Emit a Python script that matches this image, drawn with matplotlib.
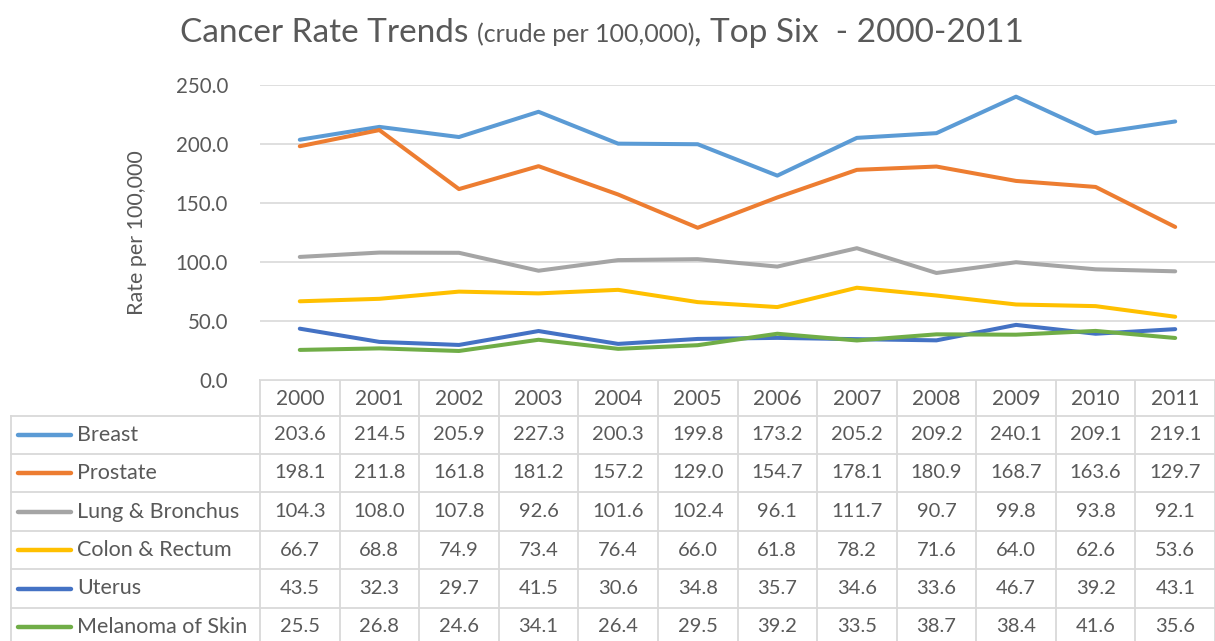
import matplotlib
matplotlib.use("Agg")
import matplotlib.pyplot as plt
from matplotlib.offsetbox import TextArea, HPacker, AnchoredOffsetbox

years = ["2000", "2001", "2002", "2003", "2004", "2005",
         "2006", "2007", "2008", "2009", "2010", "2011"]
series_names = ["Breast", "Prostate", "Lung & Bronchus", "Colon & Rectum",
                "Uterus", "Melanoma of Skin"]
breast = [203.6, 214.5, 205.9, 227.3, 200.3, 199.8, 173.2, 205.2, 209.2, 240.1, 209.1, 219.1]
prostate = [198.1, 211.8, 161.8, 181.2, 157.2, 129.0, 154.7, 178.1, 180.9, 168.7, 163.6, 129.7]
lung = [104.3, 108.0, 107.8, 92.6, 101.6, 102.4, 96.1, 111.7, 90.7, 99.8, 93.8, 92.1]
colon = [66.7, 68.8, 74.9, 73.4, 76.4, 66.0, 61.8, 78.2, 71.6, 64.0, 62.6, 53.6]
uterus = [43.5, 32.3, 29.7, 41.5, 30.6, 34.8, 35.7, 34.6, 33.6, 46.7, 39.2, 43.1]
melanoma = [25.5, 26.8, 24.6, 34.1, 26.4, 29.5, 39.2, 33.5, 38.7, 38.4, 41.6, 35.6]
yticks = [0, 50, 100, 150, 200, 250]

series = [breast, prostate, lung, colon, uterus, melanoma]
colors = ["#5B9BD5", "#ED7D31", "#A5A5A5", "#FFC000", "#4472C4", "#70AD47"]

plt.rcParams["font.family"] = ["Lato", "DejaVu Sans"]
txt = "#595959"
grid = "#D9D9D9"

W, H = 1215, 641
fig = plt.figure(figsize=(W / 100, H / 100), dpi=100)

# plot area in pixels
px0, px1, py_top, py_bot = 260, 1215, 85, 380
ax = fig.add_axes([px0 / W, 1 - py_bot / H, (px1 - px0) / W, (py_bot - py_top) / H])
x = list(range(len(years)))
for vals, c in zip(series, colors):
    ax.plot(x, vals, color=c, lw=2.9, solid_joinstyle="round", solid_capstyle="round", zorder=3)
ax.set_xlim(-0.5, len(years) - 0.5)
ax.set_ylim(0, 250)
ax.set_yticks(yticks)
ax.set_yticklabels([f"{v:.1f}" for v in yticks], fontsize=14.8, color=txt)
ax.tick_params(axis="y", length=0, pad=23)
ax.set_xticks([])
for s in ax.spines.values():
    s.set_visible(False)
ax.grid(axis="y", color=grid, lw=1.2, zorder=0)
ax.set_axisbelow(True)
ax.set_ylabel("Rate per 100,000", fontsize=15.5, color=txt, labelpad=21)

# data table in pixel coordinates
tab = fig.add_axes([0, 0, 1, 1], zorder=-1)
tab.set_xlim(0, W)
tab.set_ylim(H, 0)
tab.axis("off")
colw = (px1 - px0) / len(years)
rows = [380, 416, 454, 492, 531, 569, 608, 646]
left = 11
lkw = dict(color=grid, lw=1.3)
for i in range(len(years) + 1):
    xx = px0 + i * colw
    tab.plot([xx, xx], [rows[0], H], **lkw)
tab.plot([left, left], [rows[1], H], **lkw)
for r in rows[1:]:
    tab.plot([left, W], [r, r], **lkw)
tab.plot([px0, W], [rows[0], rows[0]], **lkw)

for i, yr in enumerate(years):
    tab.text(px0 + (i + 0.5) * colw, (rows[0] + rows[1]) / 2 + 1, yr,
             ha="center", va="center", fontsize=15, color=txt)
for j, (name, vals, c) in enumerate(zip(series_names, series, colors)):
    yc = (rows[j + 1] + rows[j + 2]) / 2
    tab.plot([18, 71], [yc, yc], color=c, lw=3.2, solid_capstyle="round")
    tab.text(77, yc, name, ha="left", va="center", fontsize=15.5, color=txt)
    for i, v in enumerate(vals):
        tab.text(px0 + (i + 0.5) * colw, yc, f"{v:.1f}",
                 ha="center", va="center", fontsize=14.5, color=txt)

# title with mixed font sizes
parts = [TextArea("Cancer Rate Trends ", textprops=dict(fontsize=24, color=txt)),
         TextArea("(crude per 100,000)", textprops=dict(fontsize=18, color=txt)),
         TextArea(", Top Six  - 2000-2011", textprops=dict(fontsize=24, color=txt))]
pack = HPacker(children=parts, align="baseline", pad=0, sep=0)
anch = AnchoredOffsetbox(loc="center", child=pack, frameon=False,
                         bbox_to_anchor=(602 / W, 1 - 33 / H), bbox_transform=fig.transFigure,
                         borderpad=0, pad=0)
fig.add_artist(anch)

fig.savefig("out.png", dpi=100)
